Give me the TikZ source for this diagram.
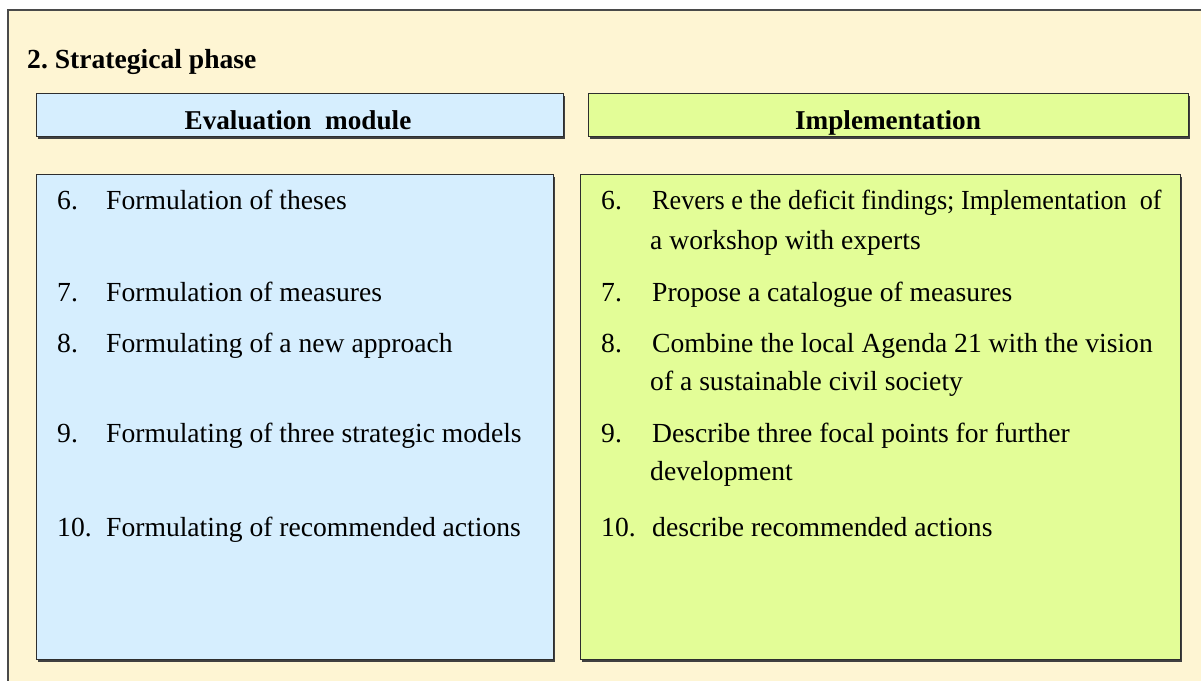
\documentclass[tikz,border=0pt]{standalone}
\usepackage{fontspec}
\usepackage{graphicx}
\setmainfont{Liberation Serif}
\usetikzlibrary{shadows}
\frenchspacing
\definecolor{cream}{HTML}{FEF5D3}
\definecolor{bluefill}{HTML}{D6EEFE}
\definecolor{greenfill}{HTML}{E3FD97}
\definecolor{frameline}{HTML}{4A4A4A}
\definecolor{boxline}{HTML}{2E2E2E}
\tikzset{
  box/.style={draw=boxline, line width=1.4pt, inner sep=0pt, anchor=north west,
    general shadow={fill=black!75, shadow xshift=1pt, shadow yshift=-2.5pt}},
  headtxt/.style={anchor=base, inner sep=0pt, font=\fontsize{27.2}{30}\selectfont\bfseries},
  item/.style={anchor=base west, inner sep=0pt, font=\fontsize{27.6}{30}\selectfont},
  titletxt/.style={anchor=base west, inner sep=0pt, font=\fontsize{27.6}{30}\selectfont\bfseries}
}
\begin{document}
\begin{tikzpicture}[x=1pt,y=-1pt]
\useasboundingbox (0,0) rectangle (1201,680);
\fill[white] (0,0) rectangle (1201,680);
\fill[cream] (8,10) rectangle (1202,681);
\draw[frameline, line width=2pt] (8,682) -- (8,10) -- (1203,10);
\node[titletxt] (title) at (27,68) {2. Strategical phase};
% headers
\node[box, fill=bluefill, minimum width=527pt, minimum height=43pt] (evalhead) at (36,93) {};
\node[box, fill=greenfill, minimum width=600pt, minimum height=43pt] (implhead) at (588,93) {};
\node[headtxt] (evaltxt) at (298,129) {Evaluation\ \ module};
\node[headtxt] (impltxt) at (888,129) {Implementation};
% bodies
\node[box, fill=bluefill, minimum width=517pt, minimum height=485pt] (evalbody) at (36,174) {};
\node[box, fill=greenfill, minimum width=600pt, minimum height=485pt] (implbody) at (580,174) {};
% left items
\node[item] (ln6) at (57,209) {6.};
\node[item] (lt6) at (106,209) {Formulation of theses};
\node[item] (ln7) at (57,301) {7.};
\node[item] (lt7) at (106,301) {Formulation of measures};
\node[item] (ln8) at (57,352) {8.};
\node[item] (lt8) at (106,352) {Formulating of a new approach};
\node[item] (ln9) at (57,442) {9.};
\node[item] (lt9) at (106,442) {Formulating of three strategic models};
\node[item] (ln10) at (57,536) {10.};
\node[item] (lt10) at (106,536) {Formulating of recommended actions};
% right items
\node[item] (rn6) at (601,209) {6.};
\node[item] (rt6) at (652,209) {\scalebox{0.948}[1]{Revers e the deficit findings; Implementation\ \ of}};
\node[item] (rt6b) at (650,249) {a workshop with experts};
\node[item] (rn7) at (601,301) {7.};
\node[item] (rt7) at (652,301) {Propose a catalogue of measures};
\node[item] (rn8) at (601,352) {8.};
\node[item] (rt8) at (652,352) {Combine the local Agenda 21 with the vision};
\node[item] (rt8b) at (650,390) {of a sustainable civil society};
\node[item] (rn9) at (601,442) {9.};
\node[item] (rt9) at (652,442) {Describe three focal points for further};
\node[item] (rt9b) at (650,480) {development};
\node[item] (rn10) at (601,536) {10.};
\node[item] (rt10) at (652,536) {describe recommended actions};
\end{tikzpicture}
\end{document}
